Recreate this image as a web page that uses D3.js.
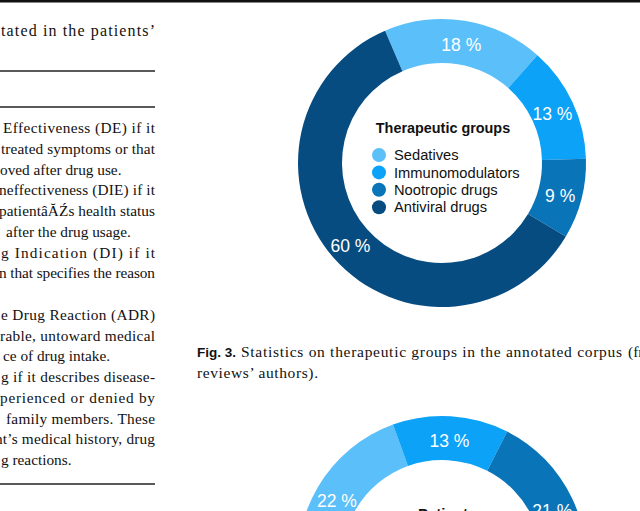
<!DOCTYPE html>
<html>
<head>
<meta charset="utf-8">
<script src="https://cdn.jsdelivr.net/npm/d3@7"></script>
<style>
  body { margin: 0; background: #fff; }
  svg { display: block; }
</style>
</head>
<body>
<div id="page"></div>
<script>
// DATA
const groupNames = ["Sedatives", "Immunomodulators", "Nootropic drugs", "Antiviral drugs"];
const groupShares = [18, 13, 9, 60];
const patientShares = [22, 13, 21, 44];
const sliceColors = ["#5bbff9", "#0ba2f7", "#0a74b8", "#074c80"];

// visible pieces of the cropped text column on the left
const columnLines = [
  {t: "Effectiveness (DE) if it", x: 3, j: true},
  {t: "treated symptoms or that", x: 1, j: true},
  {t: "oved after drug use.", x: 0, j: false},
  {t: "neffectiveness (DIE) if it", x: -1, j: true},
  {t: "patientâĂŹs health status", x: -1, j: true},
  {t: "after the drug usage.", x: 6, j: false},
  {t: "g Indication (DI) if it", x: 1, j: true},
  {t: "n that specifies the reason", x: -1, j: true},
  {t: "", x: 0, j: false},
  {t: "e Drug Reaction (ADR)", x: 1, j: true},
  {t: "rable, untoward medical", x: 0, j: true},
  {t: "ce of drug intake.", x: 3, j: false},
  {t: "g if it describes disease-", x: 1, j: true},
  {t: "perienced or denied by", x: 0, j: true},
  {t: "family members. These", x: 6, j: true},
  {t: "nt’s medical history, drug", x: -5, j: true},
  {t: "g reactions.", x: 1, j: false}
];

const W = 640, H = 511;
const svg = d3.select("#page").append("svg")
  .attr("width", W)
  .attr("height", H);

// top rule
svg.append("line")
  .attr("x1", 0).attr("x2", W).attr("y1", 1.2).attr("y2", 1.2)
  .attr("stroke", "#111").attr("stroke-width", 2.4);

//#region LEFT COLUMN
const colRight = 155;
const serif = "'Liberation Serif', 'Times New Roman', serif";

svg.append("text")
  .attr("x", 1).attr("y", 36)
  .attr("textLength", colRight - 1)
  .attr("lengthAdjust", "spacing")
  .attr("font-family", serif)
  .attr("font-size", 16)
  .attr("fill", "#111")
  .text("tated in the patients’");

[71, 107, 484].forEach(y => {
  svg.append("line")
    .attr("x1", 0).attr("x2", colRight).attr("y1", y).attr("y2", y)
    .attr("stroke", "#222").attr("stroke-width", 1.3);
});

const lineY = d3.scaleLinear().domain([0, 16]).range([133, 465]);

columnLines.forEach((d, i) => {
  if (!d.t) return;
  const t = svg.append("text")
    .attr("x", d.x)
    .attr("y", lineY(i))
    .attr("font-family", serif)
    .attr("font-size", 15.3)
    .attr("fill", "#111")
    .text(d.t);
  if (d.j) {
    t.attr("textLength", colRight - d.x).attr("lengthAdjust", "spacing");
  }
});
//#endregion

//#region DONUTS
const sans = "'Liberation Sans', Helvetica, Arial, sans-serif";
const outerR = 144, innerR = 100, labelR = 122;
const deg = Math.PI / 180;

const arc = d3.arc().innerRadius(innerR).outerRadius(outerR);
const labelArc = d3.arc().innerRadius(labelR).outerRadius(labelR);

function donut(cx, cy, values, start) {
  const pie = d3.pie().sort(null)
    .startAngle(start)
    .endAngle(start + 2 * Math.PI);
  const g = svg.append("g").attr("transform", `translate(${cx}, ${cy})`);
  const slices = pie(values);
  g.selectAll("path")
    .data(slices)
    .enter()
    .append("path")
    .attr("d", arc)
    .attr("fill", (d, i) => sliceColors[i]);
  g.selectAll("text.pct")
    .data(slices)
    .enter()
    .append("text")
    .attr("class", "pct")
    .attr("transform", d => `translate(${labelArc.centroid(d)})`)
    .attr("dy", "0.5em")
    .attr("text-anchor", "middle")
    .attr("font-family", sans)
    .attr("font-size", 17.5)
    .attr("fill", "#fff")
    .text(d => `${d.data} %`);
  return g;
}

// Fig. 3 donut
const groupDonut = donut(442, 163, groupShares, -23.3 * deg);

groupDonut.append("text")
  .attr("x", 1).attr("y", -30)
  .attr("text-anchor", "middle")
  .attr("font-family", sans)
  .attr("font-weight", "bold")
  .attr("font-size", 14.4)
  .attr("fill", "#111")
  .text("Therapeutic groups");

const legend = groupDonut.selectAll("g.leg")
  .data(groupNames)
  .enter()
  .append("g")
  .attr("class", "leg")
  .attr("transform", (d, i) => `translate(-63, ${-8 + i * 17.4})`);

legend.append("circle")
  .attr("r", 7)
  .attr("fill", (d, i) => sliceColors[i]);

legend.append("text")
  .attr("x", 15)
  .attr("dy", "0.36em")
  .attr("font-family", sans)
  .attr("font-size", 14.7)
  .attr("fill", "#111")
  .text(d => d);

// caption
svg.append("text")
  .attr("x", 197).attr("y", 357)
  .attr("font-family", sans)
  .attr("font-weight", "bold")
  .attr("font-size", 13.5)
  .attr("fill", "#111")
  .text("Fig. 3.");
svg.append("text")
  .attr("x", 241).attr("y", 357)
  .attr("textLength", 381)
  .attr("lengthAdjust", "spacing")
  .attr("font-family", serif)
  .attr("font-size", 15.5)
  .attr("fill", "#111")
  .text("Statistics on therapeutic groups in the annotated corpus");
svg.append("text")
  .attr("x", 628).attr("y", 357)
  .attr("font-family", serif)
  .attr("font-size", 15.5)
  .attr("fill", "#111")
  .text("(from");
svg.append("text")
  .attr("x", 197).attr("y", 378)
  .attr("textLength", 121)
  .attr("lengthAdjust", "spacing")
  .attr("font-family", serif)
  .attr("font-size", 15.5)
  .attr("fill", "#111")
  .text("reviews’ authors).");

// second donut, cut by the bottom edge
const patientDonut = donut(442, 560, patientShares, -99.1 * deg);

patientDonut.append("text")
  .attr("x", -24).attr("y", -41)
  .attr("font-family", sans)
  .attr("font-weight", "bold")
  .attr("font-size", 15)
  .attr("fill", "#111")
  .text("Patients");
//#endregion
</script>
</body>
</html>
